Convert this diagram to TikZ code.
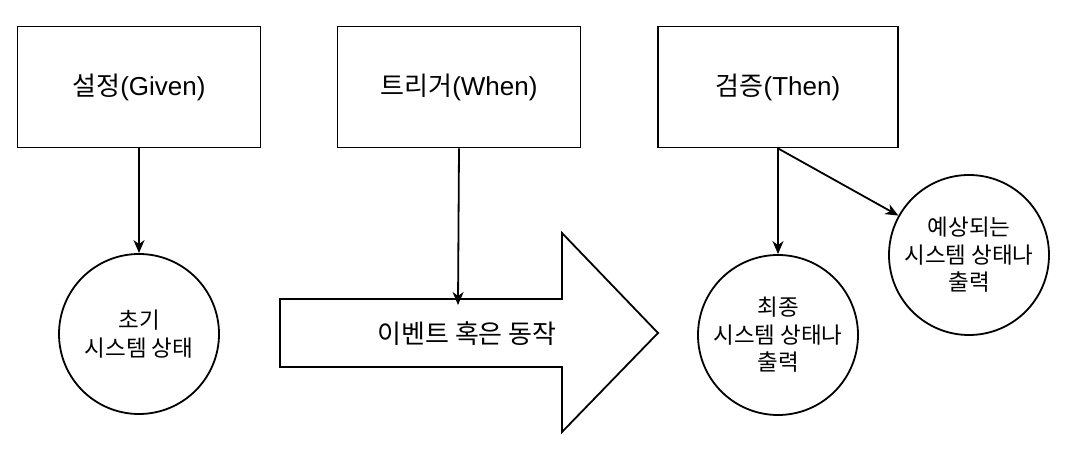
\documentclass[tikz,border=0pt]{standalone}
\usepackage{fontspec}
\setmainfont{Liberation Sans}
\newfontfamily\kr{Noto Sans CJK KR}
\usetikzlibrary{arrows.meta}
\usetikzlibrary{shapes.geometric}

\begin{document}
\begin{tikzpicture}[x=1pt,y=1pt,yscale=-1,xscale=1,
  stagebox/.style={draw,line width=1.8pt,minimum width=243pt,minimum height=121pt,inner sep=0pt,font=\fontsize{26}{30}\selectfont},
  statecircle/.style={draw,circle,line width=1.8pt,minimum size=160pt,inner sep=0pt,align=center,font=\fontsize{22.5}{27.5}\selectfont\kr},
  link/.style={line width=1.8pt,-{Stealth[length=13pt,width=11pt,inset=4pt]}}]
\useasboundingbox (0,0) rectangle (1080,462);

%Boxes
\node [stagebox] (given) at (139,87) {{\kr 설정}(Given)};
\node [stagebox] (when) at (459,87) {{\kr 트리거}(When)};
\node [stagebox,minimum width=240pt] (then) at (778,87) {{\kr 검증}(Then)};

%Circles
\node [statecircle] (initial) at (139,334) {초기\\시스템 상태};
\node [statecircle] (final) at (778,335) {최종\\시스템 상태나\\출력};
\node [statecircle] (expected) at (969,255) {예상되는\\시스템 상태나\\출력};

%Shape: Big arrow
\draw [line width=1.8pt,line join=miter] (280,299) -- (562,299) -- (562,233) -- (658,333) -- (562,432) -- (562,367) -- (280,367) -- cycle ;
\node [font=\fontsize{26}{30}\selectfont\kr] (event) at (467,334) {이벤트 혹은 동작};
\coordinate (eventin) at (458,305);

%Connectors
\draw [link] (given.south) -- (initial.north);
\draw [link] (when.south) -- (eventin);
\draw [link] (then.south) -- (final.north);
\draw [link] (then.south) -- (expected);

\end{tikzpicture}
\end{document}
